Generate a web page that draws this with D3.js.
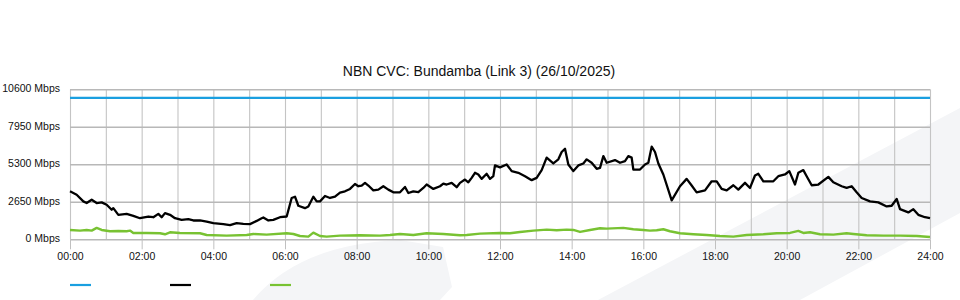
<!DOCTYPE html>
<html>
<head>
<meta charset="utf-8">
<script src="https://cdn.jsdelivr.net/npm/d3@7"></script>
<style>
  html, body { margin: 0; padding: 0; background: #fff; }
  svg { display: block; font-family: "Liberation Sans", Arial, sans-serif; }
</style>
</head>
<body>
<svg id="chart" width="960" height="300"></svg>
<script>
// ---- data ----
const title = "NBN CVC: Bundamba (Link 3) (26/10/2025)";
const yTickValues = [0, 2650, 5300, 7950, 10600];
const xLabelHours = [0, 2, 4, 6, 8, 10, 12, 14, 16, 18, 20, 22, 24];
const xGridHours = [0,1,2,3,4,5,6,7,8,9,10,11,12,13,14,15,16,17,18,19,20,21,22,23,24];

// capacity (blue)
const capTimes = [0, 24];
const capValues = [10000, 10000];

// traffic (black)
const trafficTimes = [
  0, 0.186, 0.372, 0.465, 0.605, 0.744, 0.884, 1.023, 1.163, 1.209, 1.349, 1.581, 1.767, 1.953,
  2.186, 2.326, 2.465, 2.558, 2.651, 2.791, 2.930, 3.116, 3.302, 3.442, 3.628, 3.814, 4.0, 4.279,
  4.465, 4.651, 4.837, 5.023, 5.209, 5.349, 5.395, 5.535, 5.674, 5.860, 6.047, 6.186, 6.279, 6.372,
  6.558, 6.651, 6.791, 6.884, 6.977, 7.116, 7.256, 7.395, 7.535, 7.674, 7.814, 7.953, 8.047, 8.140,
  8.233, 8.326, 8.465, 8.605, 8.744, 8.884, 9.023, 9.209, 9.349, 9.442, 9.581, 9.721, 9.860, 9.953,
  10.140, 10.326, 10.419, 10.512, 10.651, 10.791, 10.884, 11.023, 11.116, 11.209, 11.302, 11.395,
  11.488, 11.628, 11.721, 11.814, 11.860, 12.0, 12.186, 12.326, 12.512, 12.698, 12.884, 13.023,
  13.163, 13.302, 13.488, 13.628, 13.721, 13.814, 13.907, 14.047, 14.186, 14.326, 14.419, 14.558,
  14.698, 14.791, 14.884, 14.977, 15.209, 15.349, 15.488, 15.581, 15.674, 15.721, 15.907, 16.047,
  16.140, 16.233, 16.326, 16.419, 16.558, 16.791, 17.023, 17.209, 17.349, 17.488, 17.721, 17.907,
  18.047, 18.186, 18.326, 18.512, 18.651, 18.837, 18.977, 19.116, 19.209, 19.349, 19.628, 19.767,
  19.953, 20.074, 20.233, 20.326, 20.465, 20.558, 20.698, 20.884, 21.163, 21.302, 21.535, 21.674,
  21.814, 21.953, 22.093, 22.326, 22.558, 22.791, 22.930, 23.070, 23.163, 23.395, 23.535, 23.674,
  23.860, 24.0
];
const trafficValues = [
  3390, 3150, 2680, 2560, 2800, 2560, 2610, 2440, 2090, 2200, 1730, 1800, 1660, 1490,
  1610, 1560, 1800, 1560, 1850, 1730, 1490, 1370, 1420, 1330, 1330, 1250, 1140, 1070,
  1000, 1140, 1090, 1070, 1300, 1490, 1540, 1330, 1370, 1560, 1610, 2920, 3010, 2370,
  2200, 2320, 3010, 2680, 2680, 3060, 2920, 3010, 3300, 3390, 3560, 3910, 3750, 3800,
  3990, 3800, 3460, 3510, 3750, 3510, 3320, 3320, 3700, 3270, 3390, 3340, 3630, 3870,
  3560, 3750, 3940, 3870, 3990, 3680, 3990, 4220, 4030, 4340, 4700, 4580,
  4270, 4630, 4270, 4460, 5220, 5080, 5290, 4820, 4700, 4460, 4180, 4340,
  4890, 5770, 5360, 5650, 6170, 6400, 5290, 4820, 5220, 5360, 5650, 5410,
  4980, 5050, 5880, 5410, 5600, 5410, 5530, 5880, 5770, 4930, 4930, 5290,
  5410, 6550, 6170, 5360, 4580, 2750, 3750, 4270, 3800, 3320, 3460, 4100,
  4100, 3560, 3460, 3820, 3510, 3990, 3630, 4510, 4630, 4100, 4100, 4460,
  4580, 4820, 3870, 4700, 4890, 4460, 3820, 3870, 4410, 4030, 3750, 3630,
  3750, 3320, 2920, 2680, 2610, 2320, 2370, 2850, 2130, 1900, 2130, 1730,
  1560, 1490
];

// secondary (green)
const greenTimes = [
  0, 0.279, 0.465, 0.605, 0.744, 0.884, 1.116, 1.349, 1.581, 1.674, 1.767, 2.140, 2.512, 2.651,
  2.791, 3.070, 3.628, 3.814, 4.372, 4.930, 5.116, 5.488, 6.047, 6.233, 6.419, 6.651, 6.791, 6.977,
  7.163, 7.535, 8.093, 8.651, 8.930, 9.209, 9.581, 9.953, 10.419, 10.884, 11.070, 11.442, 12.0,
  12.279, 12.558, 12.930, 13.302, 13.581, 13.860, 14.047, 14.233, 14.512, 14.791, 14.977, 15.442,
  15.721, 16.0, 16.186, 16.372, 16.558, 16.744, 17.023, 17.395, 17.767, 18.140, 18.512, 18.884,
  19.349, 19.721, 20.093, 20.326, 20.465, 20.651, 20.930, 21.302, 21.674, 21.860, 22.233, 22.698,
  23.163, 23.628, 24.0
];
const greenValues = [
  660, 615, 660, 615, 805, 660, 570, 590, 570, 615, 450, 450, 425, 355,
  495, 450, 425, 305, 260, 305, 375, 330, 425, 375, 235, 190, 470, 235,
  190, 260, 285, 260, 305, 375, 305, 425, 375, 285, 305, 400, 450,
  425, 520, 615, 685, 640, 685, 660, 520, 660, 780, 755, 805,
  710, 660, 615, 640, 710, 570, 425, 355, 305, 235, 190, 305,
  355, 425, 450, 590, 450, 495, 355, 330, 425, 375, 285, 260,
  260, 235, 165
];

// ---- layout ----
const svg = d3.select("#chart");
const x = d3.scaleLinear().domain([0, 24]).range([70, 930]);
const y = d3.scaleLinear().domain([0, 10600]).range([239.3, 89.3]);

// faint watermark shapes in background
svg.append("path")
  .attr("d", "M253,300 Q300,244 400,240 L443,247 L452,287 L440,300 Z")
  .attr("fill", "#f4f5f7");
svg.append("path")
  .attr("d", "M598,300 L960,108 L960,213 L800,300 Z")
  .attr("fill", "#f4f5f7");

// title
svg.append("text")
  .attr("x", 479).attr("y", 76)
  .attr("text-anchor", "middle")
  .attr("font-size", "14px")
  .attr("fill", "#111")
  .text(title);

// vertical hourly grid
svg.append("g")
  .attr("transform", `translate(0,${y(0)})`)
  .call(d3.axisBottom(x).tickValues(xGridHours).tickSize(-(y(0) - y(10600))).tickFormat(""))
  .call(g => g.select(".domain").remove())
  .call(g => g.selectAll("line").attr("stroke", "#c4c4c4").attr("stroke-width", 1.1));

// horizontal grid
svg.append("g")
  .attr("transform", `translate(70,0)`)
  .call(d3.axisLeft(y).tickValues(yTickValues).tickSize(-860).tickFormat(""))
  .call(g => g.select(".domain").remove())
  .call(g => g.selectAll("line").attr("stroke", "#b8b8b8").attr("stroke-width", 1.6));

// y labels
svg.append("g")
  .attr("transform", `translate(70,0)`)
  .call(d3.axisLeft(y).tickValues(yTickValues).tickSize(0).tickPadding(10).tickFormat(d => d + " Mbps"))
  .call(g => g.select(".domain").remove())
  .call(g => g.selectAll("text")
    .attr("font-family", "Liberation Sans, Arial, sans-serif")
    .attr("font-size", "10.5px").attr("fill", "#111").attr("dy", "0.25em"));

// x labels and ticks
svg.append("g")
  .attr("transform", `translate(0,${y(0)})`)
  .call(d3.axisBottom(x).tickValues(xLabelHours).tickSize(10).tickPadding(3)
    .tickFormat(d => String(d).padStart(2, "0") + ":00"))
  .call(g => g.select(".domain").remove())
  .call(g => g.selectAll("line").attr("stroke", "#c0c0c0"))
  .call(g => g.selectAll("text")
    .attr("font-family", "Liberation Sans, Arial, sans-serif")
    .attr("font-size", "10.5px").attr("fill", "#111"));

// lines
const line = d3.line().x(d => x(d[0])).y(d => y(d[1]));
const series = [
  { t: capTimes, v: capValues, color: "#1a9fe0", w: 2.2 },
  { t: trafficTimes, v: trafficValues, color: "#000000", w: 2.3 },
  { t: greenTimes, v: greenValues, color: "#78c232", w: 2.4 }
];
series.forEach(s => {
  svg.append("path")
    .datum(s.t.map((t, i) => [t, s.v[i]]))
    .attr("d", line)
    .attr("fill", "none")
    .attr("stroke", s.color)
    .attr("stroke-width", s.w)
    .attr("stroke-linejoin", "round");
});

// legend (no labels)
const legend = svg.append("g");
series.forEach((s, i) => {
  legend.append("line")
    .attr("x1", 70 + i * 100).attr("x2", 91 + i * 100)
    .attr("y1", 285).attr("y2", 285)
    .attr("stroke", s.color).attr("stroke-width", 2.2);
});
</script>
</body>
</html>
